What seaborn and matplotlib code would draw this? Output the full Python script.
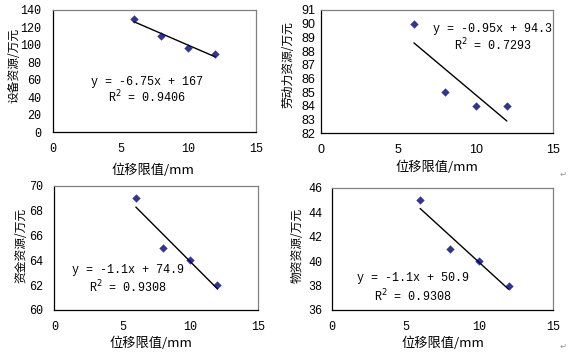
import matplotlib
matplotlib.use("Agg")
import matplotlib.pyplot as plt
import seaborn as sns
import numpy as np
import pandas as pd

sns.set_theme(style="white")
plt.rcParams['font.family'] = ['Liberation Mono', 'Noto Sans CJK SC']

# ---- data ----
x_limit = [6, 8, 10, 12]
equip = [130, 110, 96, 90]
labor = [90, 85, 84, 84]
fund = [69, 65, 64, 62]
material = [45, 41, 40, 38]

ylabels = ["设备资源/万元", "劳动力资源/万元", "资金资源/万元", "物资资源/万元"]
xlabel = "位移限值/mm"
equations = ["y = -6.75x + 167", "y = -0.95x + 94.3", "y = -1.1x + 74.9", "y = -1.1x + 50.9"]
r2_texts = ["0.9406", "0.7293", "0.9308", "0.9308"]
x_ticks = [0, 5, 10, 15]
y_ticks = [
    [0, 20, 40, 60, 80, 100, 120, 140],
    [82, 83, 84, 85, 86, 87, 88, 89, 90, 91],
    [60, 62, 64, 66, 68, 70],
    [36, 38, 40, 42, 44, 46],
]
series = [equip, labor, fund, material]

# ---- layout ----
W, H = 569, 354
fig = plt.figure(figsize=(W / 100, H / 100), dpi=100)
fig.patch.set_facecolor("white")

rects = [
    [0.0926, 0.6263, 0.3568, 0.3455],
    [0.5641, 0.6234, 0.4083, 0.3484],
    [0.0954, 0.1243, 0.3585, 0.3503],
    [0.5830, 0.1243, 0.3884, 0.3455],
]
eq_pos = [(0.464, 0.411, 0.289), (0.740, 0.846, 0.716), (0.359, 0.323, 0.188), (0.368, 0.262, 0.117)]
ylab_pos = [(-0.19, 0.55), (-0.142, 0.554), (-0.165, 0.52), (-0.155, 0.527)]
xlab_pos = [(0.494, -0.308), (0.499, -0.273), (0.474, -0.266), (0.501, -0.27)]
ytick_pad = [8, 4, 8, 7]

navy = "#000080"
cjk = ['Noto Sans CJK SC']

for i in range(4):
    ax = fig.add_axes(rects[i])
    df = pd.DataFrame({"x": x_limit, "y": series[i]})
    sns.regplot(data=df, x="x", y="y", ax=ax, ci=None, marker="D",
                scatter_kws=dict(color=navy, s=18, linewidths=0, zorder=3),
                line_kws=dict(color="black", lw=1.0, zorder=2))
    ax.set_xlim(0, 15)
    ax.set_ylim(y_ticks[i][0], y_ticks[i][-1])
    ax.set_xticks(x_ticks)
    ax.set_yticks(y_ticks[i])
    tick_font = 'Liberation Sans' if i == 1 else 'Liberation Mono'
    tfs = 9 if i == 1 else 8.5
    ax.set_xticklabels([str(t) for t in x_ticks], fontfamily=tick_font, fontsize=tfs)
    ax.set_yticklabels([str(t) for t in y_ticks[i]], fontfamily=tick_font, fontsize=tfs)
    ax.tick_params(axis="x", direction="in", length=2.2, width=0.75, color="black", pad=8, labelcolor="black")
    ax.tick_params(axis="y", direction="in", length=2.2, width=0.75, color="black", pad=ytick_pad[i], labelcolor="black")
    for s in ["left", "bottom"]:
        ax.spines[s].set_color("black")
        ax.spines[s].set_linewidth(0.9)
    for s in ["top", "right"]:
        ax.spines[s].set_color("#808080")
        ax.spines[s].set_linewidth(0.9)
    ax.set_facecolor("white")
    ax.set_xlabel(xlabel, fontfamily=cjk, fontsize=9.5, color="black", va="center")
    ax.set_ylabel(ylabels[i], fontfamily=cjk, fontsize=8.5, color="black", va="center")
    ax.xaxis.set_label_coords(*xlab_pos[i])
    ax.yaxis.set_label_coords(*ylab_pos[i])
    ex, ey, ry = eq_pos[i]
    ax.text(ex, ey, equations[i], transform=ax.transAxes, ha="center", va="center",
            fontfamily='Liberation Mono', fontsize=8.5, color="black")
    ax.text(ex, ry, "R$^{2}$ = " + r2_texts[i], transform=ax.transAxes, ha="center", va="center",
            fontfamily='Liberation Mono', fontsize=8.5, color="black")

fig.text(563 / W, 1 - 174 / H, "↵", fontfamily='DejaVu Sans', fontsize=6, color="#999999", ha="center", va="center")
fig.text(563 / W, 1 - 346 / H, "↵", fontfamily='DejaVu Sans', fontsize=6, color="#999999", ha="center", va="center")

fig.savefig("out.png", dpi=100, facecolor="white")
